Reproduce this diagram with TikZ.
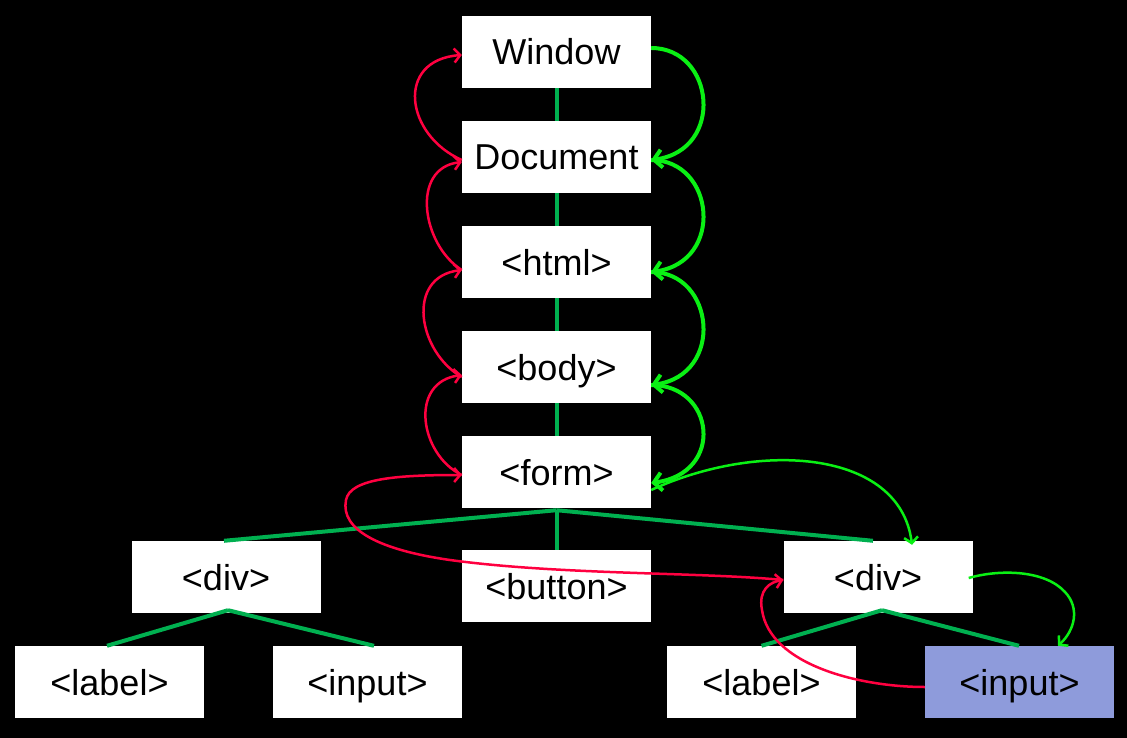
\documentclass[tikz,border=0pt]{standalone}
\usepackage{fontspec}
\setmainfont{Liberation Sans}
\usetikzlibrary{arrows.meta}
\definecolor{treegreen}{RGB}{0,176,80}
\definecolor{brightgreen}{RGB}{10,240,20}
\definecolor{redline}{RGB}{255,0,64}
\definecolor{inputfill}{RGB}{142,155,219}
\begin{document}
\begin{tikzpicture}[x=1pt,y=-1pt,
  box/.style={fill=white,minimum width=189pt,minimum height=72pt,inner sep=0pt,
    text height=26pt,text depth=0pt,font=\fontsize{36}{40}\selectfont},
  tree/.style={treegreen,line width=4pt},
  gthick/.style={brightgreen,line width=4pt,-{Straight Barb[length=8pt,width=18pt]}},
  gthin/.style={brightgreen,line width=2.5pt,-{Straight Barb[length=6pt,width=14pt]}},
  rline/.style={redline,line width=2.5pt,-{Straight Barb[length=6pt,width=14pt]}}]
\fill[black] (0,0) rectangle (1127,738);
\useasboundingbox (0,0) rectangle (1127,738);
% nodes
\node[box] (win) at (556.5,52) {Window};
\node[box] (doc) at (556.5,157) {Document};
\node[box] (html) at (556.5,262) {<html>};
\node[box] (body) at (556.5,367) {<body>};
\node[box] (form) at (556.5,472) {<form>};
\node[box] (button) at (556.5,586) {<button>};
\node[box] (divL) at (226,577) {<div>};
\node[box] (divR) at (878,577) {<div>};
\node[box] (labelL) at (109.5,682) {<label>};
\node[box] (inputL) at (367.5,682) {<input>};
\node[box] (labelR) at (761.5,682) {<label>};
\node[box,fill=inputfill] (inputR) at (1019.5,682) {<input>};
% tree lines
\draw[tree] (win.south) -- (doc.north);
\draw[tree] (doc.south) -- (html.north);
\draw[tree] (html.south) -- (body.north);
\draw[tree] (body.south) -- (form.north);
\draw[tree] ([yshift=-2pt]form.south) -- ([xshift=-2pt]divL.north);
\draw[tree] ([yshift=-2pt]form.south) -- (button.north);
\draw[tree] ([yshift=-2pt]form.south) -- ([xshift=-5pt]divR.north);
\draw[tree] ([xshift=2pt,yshift=3pt]divL.south) -- ([xshift=-2.5pt]labelL.north);
\draw[tree] ([xshift=2pt,yshift=3pt]divL.south) -- ([xshift=6.5pt]inputL.north);
\draw[tree] ([xshift=4pt,yshift=3pt]divR.south) -- (labelR.north);
\draw[tree] ([xshift=4pt,yshift=3pt]divR.south) -- ([xshift=-0.5pt]inputR.north);
% green arrows
\draw[gthick] ([yshift=4pt]win.east) .. controls (715,48) and (725,150) .. ([yshift=-3pt]doc.east);
\draw[gthick] ([yshift=-3pt]doc.east) .. controls (715,160) and (725,262) .. ([yshift=-10pt]html.east);
\draw[gthick] ([yshift=-10pt]html.east) .. controls (715,272) and (725,375) .. ([yshift=-18pt]body.east);
\draw[gthick] ([yshift=-18pt]body.east) .. controls (715,385) and (725,473) .. ([yshift=-11pt]form.east);
\draw[gthin] ([yshift=-18pt]form.east) .. controls (760,440) and (900,450) .. ([xshift=34pt,yshift=-4pt]divR.north);
\draw[gthin] ([xshift=-4pt,yshift=-1pt]divR.east) .. controls (1000,569) and (1045,570) .. (1065,592)
  .. controls (1080,608) and (1075,630) .. ([xshift=38.5pt]inputR.north);
% red arrows
\draw[rline] ([yshift=-3pt]doc.west) .. controls (405,135) and (395,60) .. ([yshift=-3pt]win.west);
\draw[rline] ([yshift=-8pt]html.west) .. controls (422,245) and (410,168) .. ([yshift=-5pt]doc.west);
\draw[rline] ([yshift=-10pt]body.west) .. controls (418,352) and (405,277) .. ([yshift=-8pt]html.west);
\draw[rline] ([yshift=-3pt]form.west) .. controls (420,455) and (408,382) .. ([yshift=-8pt]body.west);
\draw[rline] ([yshift=-3pt]divR.west) .. controls (700,572) and (560,575) .. (450,560)
  .. controls (380,550) and (340,530) .. (346,500)
  .. controls (350,478) and (400,475) .. ([yshift=-3pt]form.west);
\draw[rline] ([yshift=-5pt]inputR.west) .. controls (860,687) and (770,665) .. (762,610)
  .. controls (758,590) and (770,582) .. ([yshift=-3pt]divR.west);
\end{tikzpicture}
\end{document}
